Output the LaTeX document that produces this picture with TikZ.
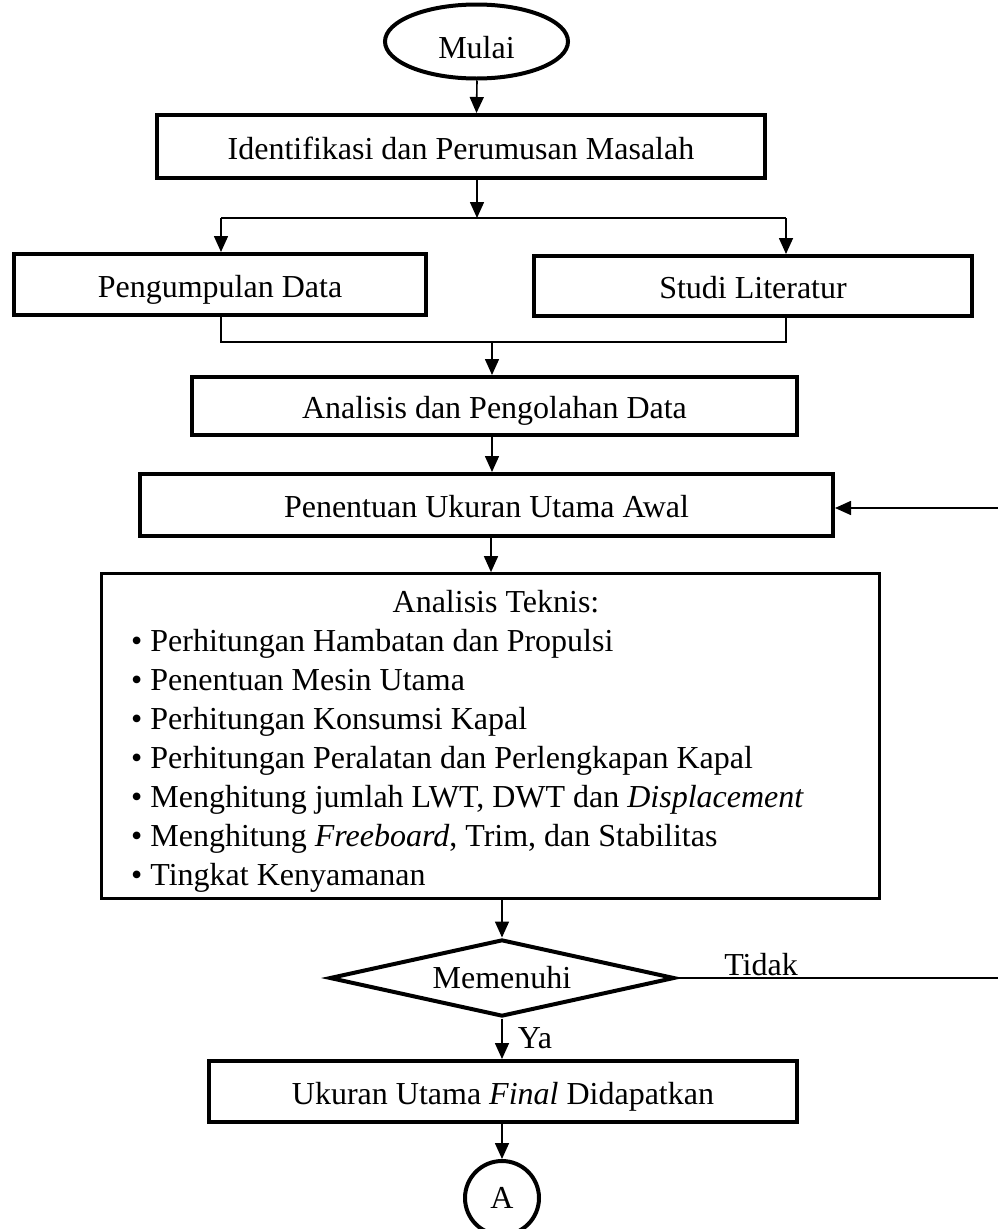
\documentclass[tikz,border=0pt]{standalone}
\usepackage{fontspec}
\setmainfont{Liberation Serif}
\usetikzlibrary{shapes.geometric,arrows.meta}
\begin{document}
\begin{tikzpicture}[x=1pt,y=-1pt,
  every node/.style={font=\fontsize{32}{38}\selectfont},
  thickbox/.style={draw,line width=4pt,rectangle,inner sep=0pt,text height=25pt,text depth=0pt},
  thinbox/.style={draw,line width=2.7pt,rectangle,inner sep=0pt},
  term/.style={draw,line width=4pt,ellipse,inner sep=0pt},
  conn/.style={line width=1.6pt},
  arr/.style={conn,-{Triangle[length=16pt,width=14pt]}},
  itemline/.style={anchor=base west,inner sep=0pt},
  lbl/.style={inner sep=0pt}]
\useasboundingbox (0,0) rectangle (998,1229);
% nodes
\node[term,minimum width=183pt,minimum height=74pt,text height=34pt,text depth=0pt] (mulai) at (476.5,41.5) {Mulai};
\node[thickbox,minimum width=608pt,minimum height=63pt] (iden) at (461,146.5) {Identifikasi dan Perumusan Masalah};
\node[thickbox,minimum width=412pt,minimum height=61pt] (peng) at (220,284.5) {Pengumpulan Data};
\node[thickbox,minimum width=438pt,minimum height=60pt] (studi) at (753,286) {Studi Literatur};
\node[thickbox,minimum width=605pt,minimum height=58pt] (anal) at (494.5,406) {Analisis dan Pengolahan Data};
\node[thickbox,minimum width=693pt,minimum height=62pt] (pen) at (486.5,505) {Penentuan Ukuran Utama Awal};
\node[thinbox,minimum width=778pt,minimum height=325pt] (tek) at (490.5,736) {};
\node[itemline,anchor=base] (tektitle) at (496,612) {Analisis Teknis:};
\node[itemline] (it1) at (131,651) {\textbullet\ Perhitungan Hambatan dan Propulsi};
\node[itemline] (it2) at (131,690) {\textbullet\ Penentuan Mesin Utama};
\node[itemline] (it3) at (131,729) {\textbullet\ Perhitungan Konsumsi Kapal};
\node[itemline] (it4) at (131,768) {\textbullet\ Perhitungan Peralatan dan Perlengkapan Kapal};
\node[itemline] (it5) at (131,807) {\textbullet\ Menghitung jumlah LWT, DWT dan \textit{Displacement}};
\node[itemline] (it6) at (131,846) {\textbullet\ Menghitung \textit{Freeboard}, Trim, dan Stabilitas};
\node[itemline] (it7) at (131,885) {\textbullet\ Tingkat Kenyamanan};
\node[draw,line width=4pt,diamond,aspect=4.5,inner sep=0pt,minimum width=345pt,minimum height=77pt] (dia) at (502,978) {Memenuhi};
\node[thickbox,minimum width=588pt,minimum height=61pt] (final) at (503,1091.5) {Ukuran Utama \textit{Final} Didapatkan};
\node[term,minimum width=74pt,minimum height=74pt] (A) at (502,1198) {A};
% coordinates
\coordinate (split) at (477,218);
\coordinate (lb) at (221,218);
\coordinate (rb) at (786,218);
\coordinate (lm) at (221,342);
\coordinate (rm) at (786,342);
\coordinate (merge) at (492,342);
\coordinate (fbr) at (1010,978);
\coordinate (fbt) at (1010,508);
% connectors
\draw[arr] (mulai.south -| split) -- (mulai.south |- iden.north);
\draw[arr] (iden.south -| split) -- (split);
\draw[conn] (lb) -- (rb);
\draw[arr] (lb) -- (lb |- peng.north);
\draw[arr] (rb) -- (rb |- studi.north);
\draw[conn] (lb |- peng.south) -- (lm) -- (rm) -- (rb |- studi.south);
\draw[arr] (merge) -- (merge |- anal.north);
\draw[arr] (anal.south -| merge) -- (merge |- pen.north);
\draw[arr] ([xshift=-1pt]pen.south -| merge) -- ([xshift=-1pt]merge |- tek.north);
\draw[arr] (tek.south -| dia.north) -- (dia.north);
\draw[arr] (dia.south) -- (final.north -| dia.south);
\draw[arr] (final.south -| A.north) -- (A.north);
\draw[conn] (dia.east) -- (fbr) -- (fbt);
\draw[arr] (fbt) -- (pen.east |- fbt);
% labels
\node[lbl] (tidak) at (761,965) {Tidak};
\node[lbl] (ya) at (535,1038) {Ya};
\end{tikzpicture}
\end{document}
